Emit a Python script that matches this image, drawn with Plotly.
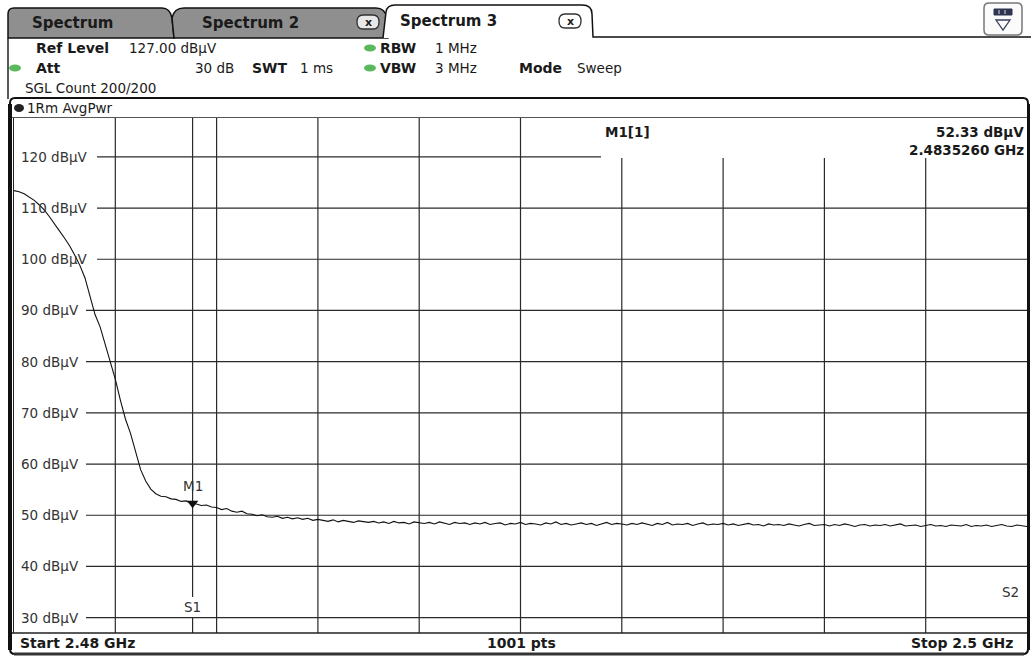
import plotly.graph_objects as go

# ---------------- data ----------------
START_GHZ = 2.48
STOP_GHZ = 2.50
SWEEP_POINTS_LABEL = "1001 pts"

trace_dbuv = [
    113.4, 113.2, 112.8, 112.2, 111.5, 110.6, 109.6, 108.3, 106.8, 105.5, 104.1,
    102.6, 100.8, 98.8, 96.4, 93.0, 89.2, 86.8, 83.5, 80.0, 76.6,
    72.5, 68.8, 66.0, 62.3, 58.9,
    56.7, 55.1, 54.2, 53.7, 53.6, 53.2, 53.1, 52.7, 52.8, 52.3, 52.2, 51.9, 52.0, 51.6, 51.5,
    51.1, 51.3, 50.8, 50.6, 50.8, 50.3, 50.2, 49.9, 50.1, 49.7,
    49.6, 49.8, 49.4, 49.6, 49.3, 49.5, 49.2, 49.4, 49.0, 49.2,
    49.0, 48.8, 49.1, 48.7, 49.0, 48.8, 48.6, 48.9, 48.7, 48.6,
    48.8, 48.5, 48.7, 48.4, 48.8, 48.5, 48.6, 48.3, 48.7, 48.5,
    48.4, 48.6, 48.3, 48.7, 48.4, 48.2, 48.6, 48.4, 48.5, 48.2,
    48.5, 48.3, 48.6, 48.2, 48.4, 48.5, 48.1, 48.4, 48.3, 48.6,
    48.2, 48.4, 48.3, 48.1, 48.5, 48.3, 48.7, 48.2, 48.4, 48.1,
    48.3, 48.5, 48.2, 48.4, 48.0, 48.3, 48.6, 48.2, 48.4, 48.3,
    48.1, 48.4, 48.2, 48.5, 48.3, 48.0, 48.4, 48.2, 48.6, 48.1,
    48.3, 48.2, 48.4, 48.0, 48.3, 48.5, 48.1, 48.3, 48.2, 48.4,
    48.1, 48.3, 48.0, 48.2, 48.4, 48.1, 48.2, 47.9, 48.3, 48.1,
    48.2, 48.0, 48.3, 48.1, 47.9, 48.2, 48.4, 48.0, 48.1, 48.2,
    47.9, 48.2, 48.0, 48.3, 48.1, 47.8, 48.1, 48.2, 47.9, 48.1,
    48.0, 48.2, 47.9, 48.1, 48.3, 47.9, 48.0, 48.1, 47.8, 48.0,
    48.2, 47.9, 48.0, 47.8, 48.1, 48.0, 47.9, 48.2, 47.8, 48.0,
    47.9, 48.1, 47.8, 48.0, 48.2, 47.9, 47.8, 48.1, 47.9, 47.8,
]
freq_ghz = [START_GHZ + (STOP_GHZ - START_GHZ) * i / (len(trace_dbuv) - 1)
            for i in range(len(trace_dbuv))]

REF_LEVEL = 127.0
BOTTOM_LEVEL = 27.0
y_ticks = [120, 110, 100, 90, 80, 70, 60, 50, 40, 30]
y_tick_labels = [f"{v} dBµV" for v in y_ticks]
x_grid_ghz = [2.482, 2.484, 2.486, 2.488, 2.490, 2.492, 2.494, 2.496, 2.498]

M1_FREQ_GHZ = 2.4835260
M1_LEVEL = 52.33

# ---------------- geometry helpers (pixel -> paper) ----------------
W, H = 1031, 656
PL, PR, PT, PB = 14, 1027, 121, 633
FONT = "DejaVu Sans"
INK = "#1a1a1a"
GRID = "#2a2a2a"


def px(x):
    return (x - PL) / (PR - PL)


def py(y):
    return (PB - y) / (PB - PT)


shapes = []
annotations = []


def txt(x, y, s, size=13, bold=False, anchor="left", color=INK, xref="paper", yref="paper"):
    annotations.append(dict(
        xref=xref, yref=yref,
        x=px(x) if xref == "paper" else x,
        y=py(y) if yref == "paper" else y,
        text=f"<b>{s}</b>" if bold else s, showarrow=False,
        xanchor=anchor, yanchor="middle", borderpad=0,
        font=dict(family=FONT, size=size, color=color)))


def path(points, close=True):
    d = ""
    for i, p in enumerate(points):
        if p[0] == "Q":
            d += f" Q {px(p[1])},{py(p[2])} {px(p[3])},{py(p[4])}"
        else:
            d += (" M " if i == 0 else " L ") + f"{px(p[0])},{py(p[1])}"
    if close:
        d += " Z"
    return d.strip()


def pline(x0, y0, x1, y1, color=INK, width=1, layer="above"):
    shapes.append(dict(type="line", xref="paper", yref="paper",
                       x0=px(x0), y0=py(y0), x1=px(x1), y1=py(y1),
                       line=dict(color=color, width=width), layer=layer))


def dot(cx, cy, rx, ry, fill, line="rgba(0,0,0,0)"):
    shapes.append(dict(type="circle", xref="paper", yref="paper",
                       x0=px(cx - rx), x1=px(cx + rx), y0=py(cy + ry), y1=py(cy - ry),
                       fillcolor=fill, line=dict(color=line, width=1)))


# ---------------- tabs ----------------
TAB_GRAY = "#8f8f8f"
shapes.append(dict(type="path", xref="paper", yref="paper", layer="above",
                   path=path([(8, 38), (8, 14), ("Q", 8, 8, 14, 8), (162, 8),
                              ("Q", 170, 8, 172, 18), (174, 38)]),
                   fillcolor=TAB_GRAY, line=dict(color="#111", width=1.5)))
shapes.append(dict(type="path", xref="paper", yref="paper", layer="above",
                   path=path([(174, 38), (172, 18), ("Q", 174, 8, 184, 8), (376, 8),
                              ("Q", 385, 8, 387, 18), (388, 38)]),
                   fillcolor=TAB_GRAY, line=dict(color="#111", width=1.5)))
shapes.append(dict(type="path", xref="paper", yref="paper", layer="above",
                   path=path([(383, 38), (386, 12), ("Q", 387, 5, 395, 5), (582, 5),
                              ("Q", 592, 5, 592, 14), (593, 37), (1031, 37)], close=False),
                   fillcolor="white", line=dict(color="#111", width=1.5)))
txt(72, 23, "Spectrum", size=15, bold=True, anchor="center")
txt(250, 23, "Spectrum 2", size=15, bold=True, anchor="center")
txt(448, 21, "Spectrum 3", size=15, bold=True, anchor="center")
for cx, cy, fill in [(368, 22, "#e8e8e8"), (570, 21, "#ffffff")]:
    shapes.append(dict(type="path", xref="paper", yref="paper",
                       path=path([(cx - 5, cy - 7), (cx + 5, cy - 7), ("Q", cx + 11, cy - 7, cx + 11, cy),
                                  ("Q", cx + 11, cy + 7, cx + 5, cy + 7), (cx - 5, cy + 7),
                                  ("Q", cx - 11, cy + 7, cx - 11, cy), ("Q", cx - 11, cy - 7, cx - 5, cy - 7)]),
                       fillcolor=fill, line=dict(color="#333", width=1.3)))
    txt(cx, cy, "x", size=11, bold=True, anchor="center")

# top-right icon
shapes.append(dict(type="path", xref="paper", yref="paper",
                   path=path([(984, 8), ("Q", 984, 3, 989, 3), (1017, 3), ("Q", 1022, 3, 1022, 8),
                              (1022, 30), ("Q", 1022, 35, 1017, 35), (989, 35),
                              ("Q", 984, 35, 984, 30)]),
                   fillcolor="#fbfbfb", line=dict(color="#777", width=1.5)))
shapes.append(dict(type="rect", xref="paper", yref="paper",
                   x0=px(994), x1=px(1012), y0=py(15), y1=py(9),
                   fillcolor="#2f3550", line=dict(color="#2f3550", width=1)))
for xx in (999, 1005):
    pline(xx, 10, xx, 14, color="#dddddd", width=1)
shapes.append(dict(type="path", xref="paper", yref="paper",
                   path=path([(996, 20), (1010, 20), (1003, 30)]),
                   fillcolor="rgba(0,0,0,0)", line=dict(color="#3a4060", width=1.3)))

# left edge of header area
pline(8, 38, 8, 99, color="#222", width=1.5)

# ---------------- header ----------------
GREEN = "#5cb85c"
txt(35, 48, "Ref Level", size=14, bold=True)
txt(128, 48, "127.00 dBµV", size=13.5)
dot(370, 48, 6, 3.5, GREEN)
txt(379, 48, "RBW", size=14, bold=True)
txt(434, 48, "1 MHz", size=13.5)
dot(15, 68, 6, 3.5, GREEN)
txt(35, 68, "Att", size=14, bold=True)
txt(235, 68, "30 dB", size=13.5, anchor="right")
txt(251, 68, "SWT", size=14, bold=True)
txt(299, 68, "1 ms", size=13.5)
dot(370, 68, 6, 3.5, GREEN)
txt(379, 68, "VBW", size=14, bold=True)
txt(434, 68, "3 MHz", size=13.5)
txt(518, 68, "Mode", size=14, bold=True)
txt(576, 68, "Sweep", size=13.5)
txt(24, 88, "SGL Count 200/200", size=13.5)

# ---------------- diagram panel frame ----------------
shapes.append(dict(type="path", xref="paper", yref="paper",
                   path=path([(10, 103), ("Q", 10, 98, 15, 98), (1023, 98), ("Q", 1028, 98, 1028, 103),
                              (1028, 649), ("Q", 1028, 654, 1023, 654), (15, 654),
                              ("Q", 10, 654, 10, 649)]),
                   fillcolor="rgba(0,0,0,0)", line=dict(color="#111", width=2)))
pline(10, 104, 10, 650, color="#111", width=4)
pline(1028.5, 104, 1028.5, 650, color="#111", width=3)
pline(14, 654, 1024, 654, color="#333", width=3)
pline(12, 117.5, 1027, 117.5, color="#555", width=1)
pline(12, 633, 1027, 633, color="#222", width=1.5)
pline(13.5, 118, 13.5, 633, color="#222", width=1)
dot(19, 108, 5, 4, "#222")
txt(26, 108, "1Rm AvgPwr", size=13.5)

# bottom bar
txt(19, 643, "Start 2.48 GHz", size=14, bold=True)
txt(521, 643, SWEEP_POINTS_LABEL, size=14, bold=True, anchor="center")
txt(1014, 643, "Stop 2.5 GHz", size=14, bold=True, anchor="right")

# ---------------- grid ----------------
BOX_LEFT_PX = 601
BOX_BOTTOM_PX = 158
for v, lab in zip(y_ticks, y_tick_labels):
    x_start = 97 if v >= 100 else 86
    x_end = BOX_LEFT_PX if v == y_ticks[0] else PR
    shapes.append(dict(type="line", xref="paper", yref="y", x0=px(x_start), x1=px(x_end),
                       y0=v, y1=v, line=dict(color=GRID, width=1.2), layer="below"))
    annotations.append(dict(xref="paper", yref="y", x=px(20), y=v, text=lab, showarrow=False,
                            xanchor="left", yanchor="middle", borderpad=0,
                            font=dict(family=FONT, size=13.5, color="#333")))
for f in x_grid_ghz:
    x_pix = PL + (f - START_GHZ) / (STOP_GHZ - START_GHZ) * (PR - PL)
    top = BOX_BOTTOM_PX if x_pix > BOX_LEFT_PX else 118
    shapes.append(dict(type="line", xref="x", yref="paper", x0=f, x1=f,
                       y0=0, y1=py(top), line=dict(color=GRID, width=1.2), layer="below"))

# marker S1 line (with gap for the S1 label)
for y0p, y1p in [(118, 597), (617, 633)]:
    shapes.append(dict(type="line", xref="x", yref="paper", x0=M1_FREQ_GHZ, x1=M1_FREQ_GHZ,
                       y0=py(y1p), y1=py(y0p), line=dict(color=GRID, width=1.2), layer="below"))
annotations.append(dict(xref="x", yref="paper", x=M1_FREQ_GHZ, y=py(607), text="S1",
                        showarrow=False, xanchor="center", yanchor="middle", borderpad=0,
                        font=dict(family=FONT, size=13.5, color="#333")))
txt(1010, 592, "S2", size=13.5, anchor="center", color="#333")
annotations.append(dict(xref="x", yref="y", x=M1_FREQ_GHZ, y=M1_LEVEL, text="M1",
                        showarrow=False, xanchor="center", yanchor="bottom", yshift=8, borderpad=0,
                        font=dict(family=FONT, size=13.5, color="#333")))

# marker info
txt(604, 132, "M1[1]", size=13.5, bold=True)
txt(1025, 132, f"{M1_LEVEL:.2f} dBµV", size=13.5, bold=True, anchor="right")
txt(1025, 150, f"{M1_FREQ_GHZ:.7f} GHz", size=13.5, bold=True, anchor="right")

# ---------------- traces ----------------
fig = go.Figure()
fig.add_trace(go.Scatter(x=freq_ghz, y=trace_dbuv, mode="lines",
                         line=dict(color="#111111", width=1.1), hoverinfo="skip"))
fig.add_trace(go.Scatter(x=[M1_FREQ_GHZ], y=[M1_LEVEL], mode="markers",
                         marker=dict(symbol="triangle-down", size=10, color="#111111"),
                         hoverinfo="skip"))

fig.update_layout(
    width=W, height=H,
    margin=dict(l=PL, r=W - PR, t=PT, b=H - PB, pad=0),
    paper_bgcolor="white", plot_bgcolor="white",
    showlegend=False,
    xaxis=dict(range=[START_GHZ, STOP_GHZ], visible=False, showgrid=False, zeroline=False),
    yaxis=dict(range=[BOTTOM_LEVEL, REF_LEVEL], visible=False, showgrid=False, zeroline=False),
    shapes=shapes, annotations=annotations,
)

fig.write_html("out.html", config={"displayModeBar": False, "staticPlot": True},
               post_script="document.body.style.margin='0px';document.body.style.overflow='hidden';")
